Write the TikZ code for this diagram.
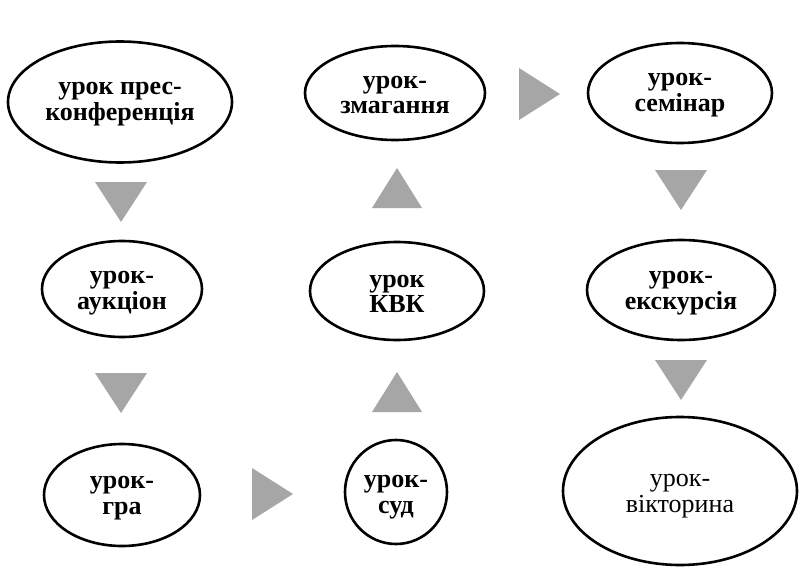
\documentclass[tikz,border=0pt]{standalone}
\usepackage{fontspec}
\setmainfont{Liberation Serif}
\usetikzlibrary{shapes.geometric}
\definecolor{trigray}{HTML}{A6A6A6}
\tikzset{
  x=1pt, y=-1pt,
  lesson/.style={draw=black, line width=2.6pt, ellipse, inner sep=0pt},
  txt/.style={inner sep=0pt, align=center, font=\bfseries\fontsize{26}{25.5}\selectfont},
  plain/.style={font=\mdseries\fontsize{26}{25.5}\selectfont},
  tri/.style={fill=trigray, draw=none},
}
\begin{document}
\begin{tikzpicture}
\useasboundingbox[fill=white] (0,0) rectangle (800,567);
% ellipses
\node[lesson, minimum width=224pt, minimum height=121pt] (e1) at (120,102) {};
\node[lesson, minimum width=160pt, minimum height=96pt] (e2) at (122,289) {};
\node[lesson, minimum width=156pt, minimum height=102pt] (e3) at (122,495) {};
\node[lesson, minimum width=102pt, minimum height=104pt] (e4) at (396,492) {};
\node[lesson, minimum width=174pt, minimum height=98pt] (e5) at (397,291) {};
\node[lesson, minimum width=180pt, minimum height=94pt] (e6) at (395,93) {};
\node[lesson, minimum width=184pt, minimum height=100pt] (e7) at (680,93) {};
\node[lesson, minimum width=188pt, minimum height=100pt] (e8) at (681,290) {};
\node[lesson, minimum width=234pt, minimum height=148pt] (e9) at (680,491) {};
% texts
\node[txt] (t1) at ([yshift=-2pt]e1.center) {урок прес-\\конференція};
\node[txt] (t2) at ([yshift=-4pt]e2.center) {урок-\\аукціон};
\node[txt] (t3) at ([yshift=-3pt]e3.center) {урок-\\гра};
\node[txt] (t4) at ([yshift=-5pt]e4.center) {урок-\\суд};
\node[txt] (t5) at ([yshift=-3pt]e5.center) {урок\\КВК};
\node[txt] (t6) at ([yshift=-2pt]e6.center) {урок-\\змагання};
\node[txt] (t7) at ([yshift=-2pt]e7.center) {урок-\\семінар};
\node[txt] (t8) at ([yshift=-3pt]e8.center) {урок-\\екскурсія};
\node[txt, plain] (t9) at ([yshift=-5pt]e9.center) {урок-\\вікторина};
% triangles (connectors)
\fill[tri] (95,182) -- (147,182) -- (121,222) -- cycle;
\fill[tri] (95,373) -- (147,373) -- (121,413) -- cycle;
\fill[tri] (252,468) -- (293,494) -- (252,520) -- cycle;
\fill[tri] (372,412) -- (422,412) -- (397,372) -- cycle;
\fill[tri] (372,208) -- (422,208) -- (397,168) -- cycle;
\fill[tri] (519,68) -- (560,94) -- (519,120) -- cycle;
\fill[tri] (655,170) -- (707,170) -- (681,210) -- cycle;
\fill[tri] (655,360) -- (707,360) -- (681,400) -- cycle;
\end{tikzpicture}
\end{document}
